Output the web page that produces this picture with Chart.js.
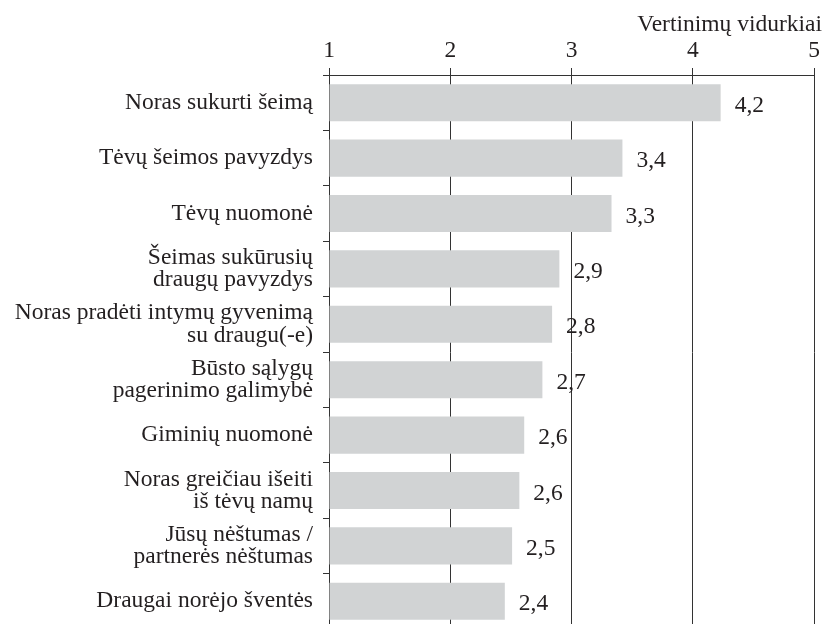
<!DOCTYPE html>
<html>
<head>
<meta charset="utf-8">
<script src="https://cdn.jsdelivr.net/npm/chart.js"></script>
<style>
  html, body { margin: 0; padding: 0; overflow: hidden; background: #fff; }
</style>
</head>
<body>
<canvas id="chart" width="829" height="629"></canvas>
<script>
const categories = [
  "Noras sukurti šeimą",
  "Tėvų šeimos pavyzdys",
  "Tėvų nuomonė",
  ["Šeimas sukūrusių", "draugų pavyzdys"],
  ["Noras pradėti intymų gyvenimą", "su draugu(-e)"],
  ["Būsto sąlygų", "pagerinimo galimybė"],
  "Giminių nuomonė",
  ["Noras greičiau išeiti", "iš tėvų namų"],
  ["Jūsų nėštumas /", "partnerės nėštumas"],
  "Draugai norėjo šventės"
];
const values = [4.23, 3.42, 3.33, 2.90, 2.84, 2.76, 2.61, 2.57, 2.51, 2.45];
const valueLabels = ["4,2", "3,4", "3,3", "2,9", "2,8", "2,7", "2,6", "2,6", "2,5", "2,4"];
const axisTitle = "Vertinimų vidurkiai";

const textColor = '#231f20';
const lineColor = '#333333';
const fontFamily = "'Liberation Serif', 'Times New Roman', serif";
const fontSize = 23.5;
const font = { family: fontFamily, size: fontSize };

const labelsPlugin = {
  id: 'valueLabels',
  afterDraw(chart) {
    const ctx = chart.ctx;
    ctx.save();
    ctx.font = fontSize + 'px ' + fontFamily;
    ctx.fillStyle = textColor;
    ctx.textBaseline = 'alphabetic';
    ctx.textAlign = 'left';
    chart.getDatasetMeta(0).data.forEach((bar, i) => {
      ctx.fillText(valueLabels[i], bar.x + 14, bar.y + 9);
    });
    // axis title, top right
    ctx.textAlign = 'right';
    ctx.fillText(axisTitle, 822, 31);
    ctx.restore();
  }
};

function draw() {
  new Chart(document.getElementById('chart'), {
    type: 'bar',
    data: {
      labels: categories,
      datasets: [{
        data: values,
        base: 1,
        backgroundColor: '#d1d3d4',
        borderWidth: 0,
        barPercentage: 0.67,
        categoryPercentage: 1
      }]
    },
    options: {
      indexAxis: 'y',
      responsive: false,
      animation: false,
      devicePixelRatio: 1,
      layout: { padding: { left: 0, right: 15, top: 0, bottom: 0 } },
      plugins: {
        legend: { display: false },
        tooltip: { enabled: false }
      },
      scales: {
        x: {
          position: 'top',
          min: 1,
          max: 5,
          ticks: { stepSize: 1, color: textColor, font: font, padding: 3 },
          grid: { color: lineColor, lineWidth: 1, tickLength: 7 },
          border: { color: lineColor, width: 1 },
          afterFit(scale) { scale.height = 75; }
        },
        y: {
          z: 1,
          ticks: { color: textColor, font: { family: fontFamily, size: fontSize, lineHeight: 0.94 }, padding: 10 },
          grid: { drawOnChartArea: false, offset: true, color: lineColor, tickLength: 6 },
          border: { color: lineColor, width: 1 },
          afterFit(scale) {
            scale.width = 329;
            scale.paddingTop = 0;
            scale.paddingBottom = 0;
          }
        }
      }
    },
    plugins: [labelsPlugin]
  });
}

document.fonts.load("23px 'Liberation Serif'").then(draw, draw);
</script>
</body>
</html>
